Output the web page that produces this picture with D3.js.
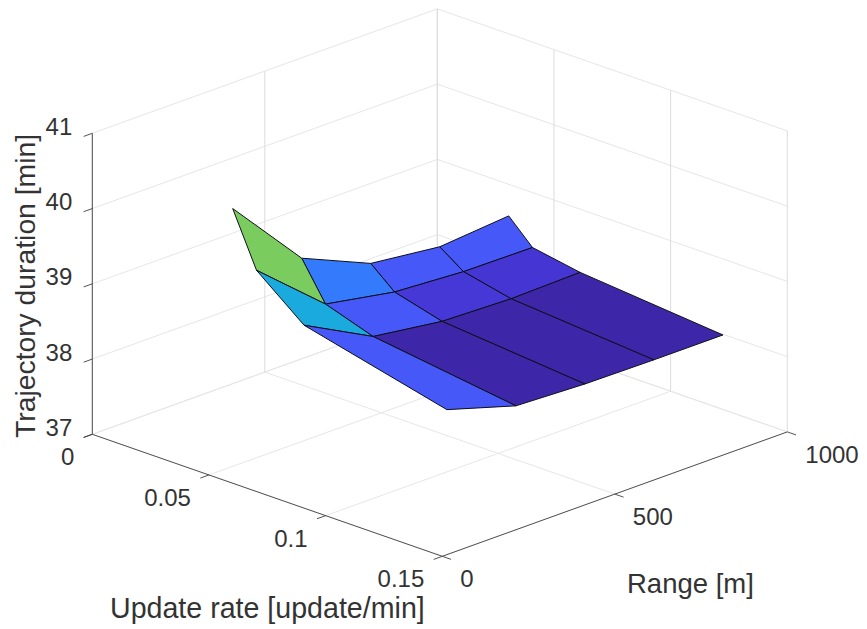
<!DOCTYPE html>
<html><head><meta charset="utf-8">
<script src="https://cdn.jsdelivr.net/npm/d3@7"></script>
<style>html,body{margin:0;padding:0;background:#fff}svg{display:block}text{font-family:"Liberation Sans",Arial,sans-serif;fill:#333}</style>
</head><body><svg id="c" width="867" height="629"></svg>
<script>
const rates = [0.0306, 0.0408, 0.0612, 0.1224];
const ranges = [200, 400, 600, 800, 1000];
const duration = [
  [40.00, 39.01, 38.61, 38.50, 38.58],
  [39.29, 38.51, 38.34, 38.28, 38.27],
  [38.78, 38.30, 38.17, 38.14, 38.16],
  [38.32, 38.04, 38.00, 37.99, 37.99]
];
const faceLevels = [
  [39.98, 38.75, 38.48, 38.48],
  [39.20, 38.48, 38.20, 38.18],
  [38.48, 38.00, 38.00, 38.00]
];
const rateTicks = [0, 0.05, 0.1, 0.15];
const rateLabels = ["0", "0.05", "0.1", "0.15"];
const rangeTicks = [0, 500, 1000];
const rangeLabels = ["0", "500", "1000"];
const durTicks = [37, 38, 39, 40, 41];
const parula = ["#3e26a8","#4029b4","#422ebf","#4332cb","#4537d5","#463cde","#4741e5","#4747eb","#474df0","#4752f4","#4758f8","#465efb","#4563fc","#4269fe","#3e6fff","#3876fe","#327cfc","#2f81fa","#2d87f7","#2d8cf3","#2b91ef","#2796eb","#259be7","#23a0e5","#20a5e3","#1ca9df","#18addb","#11b1d6","#08b5d0","#01b8ca","#02bac3","#0bbdbc","#19bfb5","#24c1ae","#2cc3a7","#31c69f","#37c897","#3fca8e","#4acb84","#57cc7a","#64cc6f","#72cc64","#80cc59","#8fca4e","#9dc944"];
const sz = 24;

const svg = d3.select("#c");
const ox = 92.3, oy = 434.3;
const rX = d3.scaleLinear().domain([0, 0.15]).range([0, 350]);
const rY = d3.scaleLinear().domain([0, 0.15]).range([0, 122]);
const gX = d3.scaleLinear().domain([0, 1000]).range([0, 345]);
const gY = d3.scaleLinear().domain([0, 1000]).range([0, -124.4]);
const zY = d3.scaleLinear().domain([37, 41]).range([0, -301]);
const P = (r, g, z) => [ox + rX(r) + gX(g), oy + rY(r) + gY(g) + zY(z)];
const color = d3.scaleLinear()
  .domain(parula.map((_, i) => 38 + 3 * i / 63))
  .range(parula).clamp(true);

const line = (a, b, stroke, w) => svg.append("line")
  .attr("x1", a[0]).attr("y1", a[1]).attr("x2", b[0]).attr("y2", b[1])
  .attr("stroke", stroke).attr("stroke-width", w);
const gridH = "#e6e6e6", gridV = "#dcdcdc", rMax = 0.15, gMax = 1000, zMin = 37, zMax = 41;

// floor
rateTicks.forEach(r => line(P(r, 0, zMin), P(r, gMax, zMin), gridH, 1));
rangeTicks.forEach(g => line(P(0, g, zMin), P(rMax, g, zMin), gridH, 1));
// walls
durTicks.forEach(z => {
  line(P(0, 0, z), P(0, gMax, z), gridH, 1);
  line(P(0, gMax, z), P(rMax, gMax, z), gridH, 1);
});
rangeTicks.forEach(g => line(P(0, g, zMin), P(0, g, zMax), gridV, 1));
rateTicks.forEach(r => line(P(r, gMax, zMin), P(r, gMax, zMax), gridV, 1));

// surface, far to near
const path = d3.line();
d3.range(rates.length - 1).forEach(i => {
  d3.range(ranges.length - 2, -1, -1).forEach(j => {
    const c = [[i, j], [i + 1, j], [i + 1, j + 1], [i, j + 1]]
      .map(([a, b]) => P(rates[a], ranges[b], duration[a][b]));
    svg.append("path").attr("d", path(c) + "Z")
      .attr("fill", color(faceLevels[i][j]))
      .attr("stroke", "#0e0e1a").attr("stroke-width", 1)
      .attr("stroke-linejoin", "round");
  });
});

// axes
const ax = "#404040", axW = 0.9;
line(P(0, 0, zMin), P(rMax, 0, zMin), ax, axW);
line(P(rMax, 0, zMin), P(rMax, gMax, zMin), ax, axW);
line(P(0, 0, zMin), P(0, 0, zMax), ax, axW);
const tk = 0.025;
durTicks.forEach(z => line(P(0, 0, z), P(0, -tk * gMax, z), ax, axW));
rateTicks.forEach(r => line(P(r, 0, zMin), P(r, -tk * gMax, zMin), ax, axW));
rangeTicks.forEach(g => line(P(rMax, g, zMin), P(rMax + tk * rMax, g, zMin), ax, axW));

const label = (s, x, y, anchor, size) => svg.append("text").text(s)
  .attr("x", x).attr("y", y).attr("text-anchor", anchor).attr("font-size", size);
durTicks.forEach(z => {
  const p = P(0, 0, z);
  label(String(z), p[0] - 20, p[1] + 1.5, "end", sz);
});
rateTicks.forEach((r, i) => {
  const p = P(r, 0, zMin);
  label(rateLabels[i], p[0] - 18, p[1] + 31, "end", sz);
});
rangeTicks.forEach((g, i) => {
  const p = P(rMax, g, zMin);
  label(rangeLabels[i], p[0] + 18, p[1] + 31, "start", sz);
});
label("Update rate [update/min]", 110, 618, "start", 28.6);
label("Range [m]", 627, 592.5, "start", 27.5);
svg.append("text").text("Trajectory duration [min]")
  .attr("transform", "translate(35,438) rotate(-90)")
  .attr("font-size", 28.3);
</script></body></html>
